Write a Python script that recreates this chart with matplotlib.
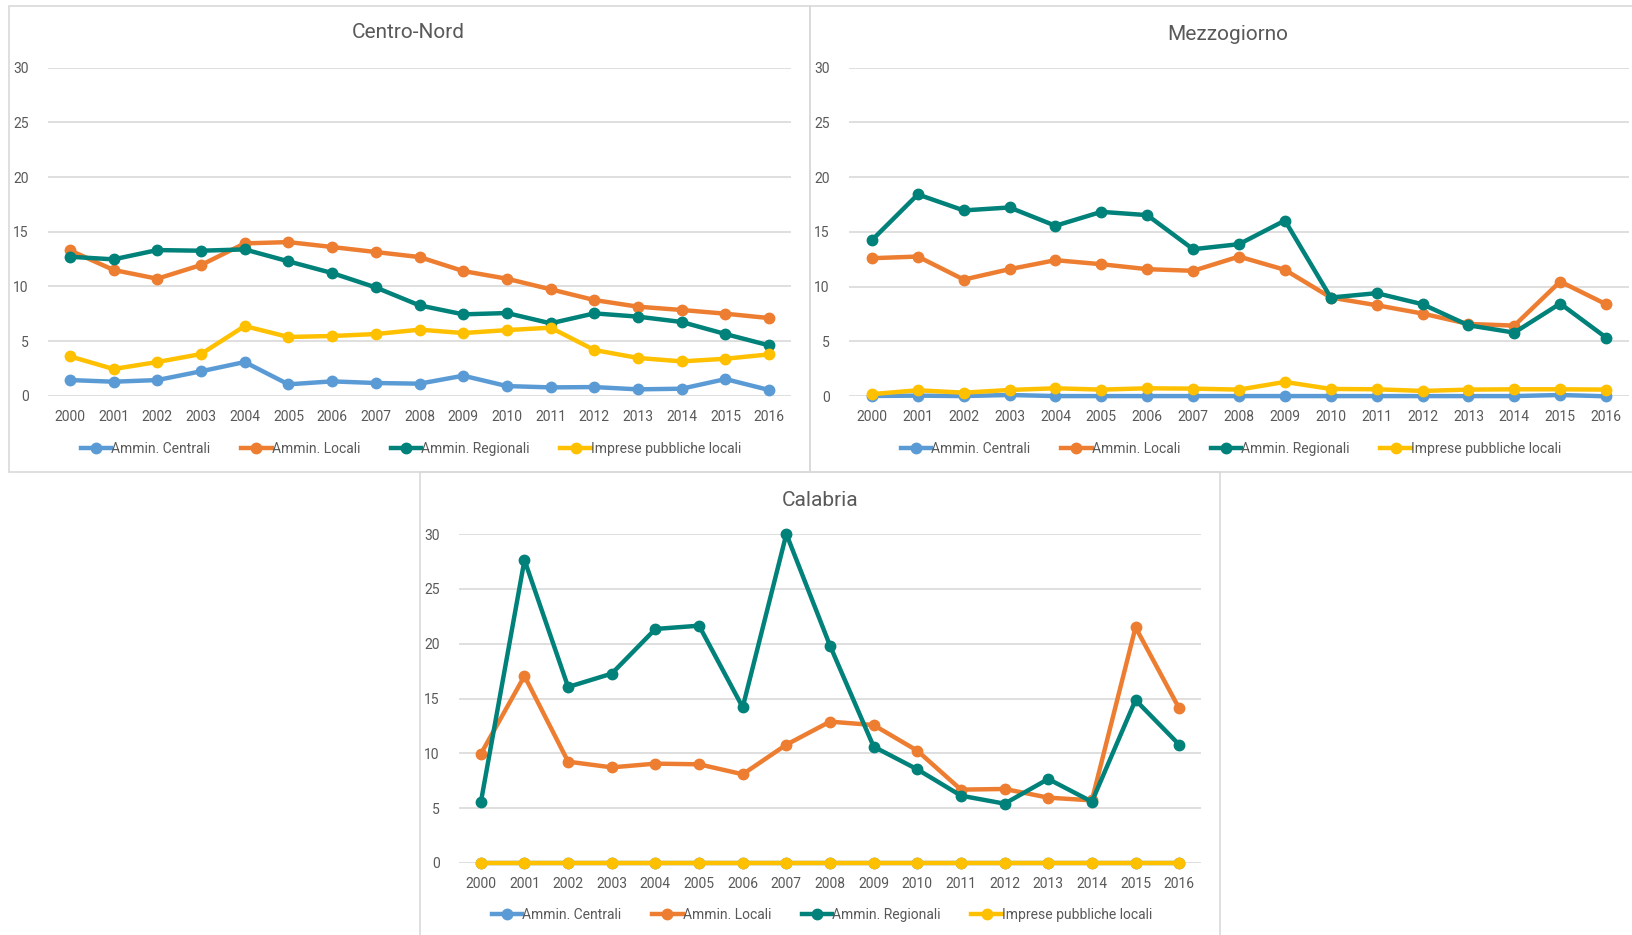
import matplotlib
matplotlib.use("Agg")
import matplotlib.pyplot as plt
from matplotlib.patches import Rectangle
from matplotlib.lines import Line2D
import numpy as np

plt.rcParams['font.family'] = ['Roboto', 'DejaVu Sans']

years = [str(y) for y in range(2000, 2017)]
series_names = ["Ammin. Centrali", "Ammin. Locali", "Ammin. Regionali", "Imprese pubbliche locali"]
colors = ["#5B9BD5", "#ED7D31", "#00817A", "#FFC000"]

# Centro-Nord
cn_centrali = [1.43, 1.28, 1.43, 2.23, 3.08, 1.04, 1.31, 1.16, 1.10, 1.83, 0.88, 0.76, 0.79, 0.58, 0.64, 1.52, 0.52]
cn_locali = [13.3, 11.5, 10.7, 11.95, 13.93, 14.05, 13.6, 13.14, 12.68, 11.4, 10.7, 9.73, 8.75, 8.14, 7.84, 7.5, 7.1]
cn_regionali = [12.71, 12.47, 13.32, 13.26, 13.38, 12.29, 11.22, 9.9, 8.26, 7.44, 7.56, 6.62, 7.53, 7.23, 6.74, 5.64, 4.6]
cn_imprese = [3.6, 2.44, 3.08, 3.81, 6.37, 5.37, 5.46, 5.64, 6.04, 5.73, 6.0, 6.22, 4.18, 3.45, 3.14, 3.38, 3.78]

# Mezzogiorno
mz_centrali = [0.03, 0.06, 0.02, 0.12, 0.02, 0.02, 0.02, 0.02, 0.02, 0.02, 0.02, 0.02, 0.02, 0.02, 0.02, 0.12, 0.0]
mz_locali = [12.6, 12.75, 10.65, 11.6, 12.42, 12.05, 11.6, 11.45, 12.75, 11.54, 9.01, 8.31, 7.55, 6.6, 6.45, 10.47, 8.4]
mz_regionali = [14.25, 18.42, 16.96, 17.23, 15.56, 16.83, 16.53, 13.42, 13.88, 16.04, 9.01, 9.41, 8.4, 6.48, 5.81, 8.46, 5.36]
mz_imprese = [0.2, 0.55, 0.33, 0.58, 0.73, 0.61, 0.73, 0.7, 0.61, 1.31, 0.67, 0.64, 0.49, 0.61, 0.64, 0.64, 0.61]

# Calabria
ca_centrali = [0.0] * 17
ca_locali = [9.94, 17.05, 9.24, 8.72, 9.06, 9.0, 8.09, 10.79, 12.89, 12.58, 10.24, 6.69, 6.75, 5.96, 5.71, 21.49, 14.1]
ca_regionali = [5.53, 27.63, 16.05, 17.27, 21.34, 21.64, 14.2, 30.0, 19.82, 10.61, 8.54, 6.14, 5.41, 7.66, 5.59, 14.86, 10.79]
ca_imprese = [0.0] * 17

yticks = [0, 5, 10, 15, 20, 25, 30]

W, H = 1632, 935
fig = plt.figure(figsize=(W / 100, H / 100), dpi=100)
fig.patch.set_facecolor("white")

def fx(px):
    return px / W

def fy(py):
    return 1 - py / H

# panel frames (pixel boxes: left, top, right, bottom)
frames = [(9, 6, 810, 472), (810, 6, 1640, 472), (420, 472, 1220, 945)]
for (l, t, r, b) in frames:
    fig.patches.append(Rectangle((fx(l), fy(b)), fx(r - l), (b - t) / H,
                                 transform=fig.transFigure, fill=False,
                                 edgecolor="#D9D9D9", linewidth=1.2, zorder=0))

panels = [
    dict(title="Centro-Nord", data=[cn_centrali, cn_locali, cn_regionali, cn_imprese],
         ax=(48, 67.7, 791, 395.7), title_xy=(408, 33), leg_xy=(411, 449)),
    dict(title="Mezzogiorno", data=[mz_centrali, mz_locali, mz_regionali, mz_imprese],
         ax=(849, 67.5, 1629, 396.3), title_xy=(1228, 34), leg_xy=(1231, 449)),
    dict(title="Calabria", data=[ca_centrali, ca_locali, ca_regionali, ca_imprese],
         ax=(459, 534, 1201, 863), title_xy=(820, 500), leg_xy=(822, 915)),
]

textc = "#595959"
x = np.arange(len(years))
for p in panels:
    l, t, r, b = p["ax"]
    ax = fig.add_axes([fx(l), fy(b), fx(r - l), (b - t) / H])
    ax.set_facecolor("none")
    for vals, c, name in zip(p["data"], colors, series_names):
        ax.plot(x, vals, color=c, linewidth=3.2, marker="o", markersize=7.5,
                label=name, clip_on=False, solid_capstyle="round")
    ax.set_xlim(-0.5, len(years) - 0.5)
    ax.set_ylim(0, 30)
    ax.set_yticks(yticks)
    ax.set_xticks(x)
    ax.set_xticklabels(years)
    ax.tick_params(axis="both", length=0, labelsize=10, colors=textc)
    ax.tick_params(axis="y", pad=14)
    ax.tick_params(axis="x", pad=10)
    for s in ax.spines.values():
        s.set_visible(False)
    ax.grid(axis="y", color="#D9D9D9", linewidth=1.2)
    ax.set_axisbelow(True)
    fig.text(fx(p["title_xy"][0]), fy(p["title_xy"][1]), p["title"], ha="center",
             va="center", fontsize=15, color=textc)
    handles = [Line2D([0], [0], color=c, linewidth=3.2, marker="o", markersize=7.5)
               for c in colors]
    fig.legend(handles, series_names, loc="center",
               bbox_to_anchor=(fx(p["leg_xy"][0]), fy(p["leg_xy"][1])),
               ncol=4, frameon=False, fontsize=10, handlelength=2.2,
               handletextpad=0.0, columnspacing=2.2, labelcolor=textc)

fig.savefig("out.png", dpi=100)
